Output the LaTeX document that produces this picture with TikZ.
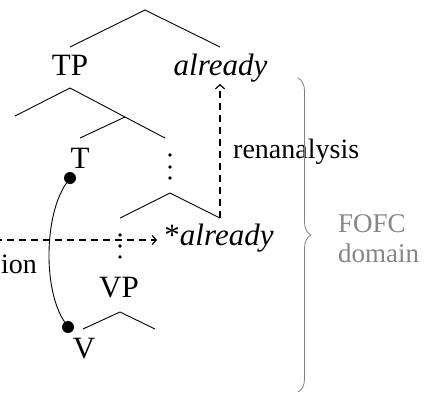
\documentclass[tikz,border=0pt]{standalone}
\usepackage{fontspec}
\setmainfont{Liberation Serif}
\usetikzlibrary{arrows.meta,decorations.pathreplacing}
\begin{document}
\begin{tikzpicture}[x=1pt,y=-1pt,
  branch/.style={line width=0.9pt},
  lbl/.style={font=\fontsize{31}{31}\selectfont, inner sep=0pt},
  note/.style={font=\fontsize{28}{28}\selectfont, inner sep=0pt},
  side/.style={font=\fontsize{27}{27}\selectfont, inner sep=0pt, text=gray!95},
  move/.style={line width=1.5pt, dash pattern=on 7pt off 5pt,
    -{Straight Barb[length=4pt,width=9pt,line width=1.2pt]}},
  dotpt/.style={fill=black, circle, inner sep=0pt, minimum size=3.8pt},
  trace/.style={fill=black, circle, inner sep=0pt, minimum size=12pt}]
\useasboundingbox (0,0) rectangle (425,394);

% top layer: TP and the adverb
\coordinate (r0) at (145,10);
\coordinate (r0l) at (70,47);
\coordinate (r0r) at (220,47);
\draw[branch] (r0l) -- (r0) -- (r0r);
\node[lbl, anchor=base] (TP) at (70,75) {TP};
\node[lbl, anchor=base] (adv) at (220.5,75) {\itshape already};

% TP subtree
\coordinate (r1) at (70,88);
\coordinate (r1l) at (15,116);
\coordinate (r2) at (125,117);
\coordinate (r1r) at (165,138);
\coordinate (r2l) at (80,138);
\draw[branch] (r1l) -- (r1) -- (r2) -- (r1r);
\draw[branch] (r2) -- (r2l);
\node[lbl, anchor=base] (T) at (80,168) {T};
\node[trace] (tdot) at (70,178) {};

% elided material
\node[dotpt] (d1) at (170,155) {};
\node[dotpt] (d2) at (170,167) {};
\node[dotpt] (d3) at (170,178) {};

% lower adverb position
\coordinate (r3) at (170,193);
\coordinate (r3l) at (120,218);
\coordinate (r3r) at (220,218);
\draw[branch] (r3l) -- (r3) -- (r3r);
\node[lbl, anchor=base] (adv2) at (219,245) {*\textit{already}};

\node[dotpt] (e1) at (120,235) {};
\node[dotpt] (e2) at (120,246) {};
\node[dotpt] (e3) at (120,257) {};

% VP
\node[lbl, anchor=base] (VP) at (119,297) {VP};
\coordinate (r4) at (120,312);
\coordinate (r4l) at (83,329);
\coordinate (r4r) at (155,329);
\draw[branch] (r4l) -- (r4) -- (r4r);
\node[trace] (vdot) at (68,327) {};
\node[lbl, anchor=base] (V) at (84,358) {V};

% head chain
\draw[line width=0.9pt] (tdot) .. controls (44,215) and (43,290) .. (vdot);

% movements
\coordinate (src) at (-5,240);
\coordinate (hit) at (157,240);
\draw[move] (src) -- (hit);
\coordinate (top) at (220,84);
\draw[move] (r3r) -- (top);
\node[note, anchor=base west] (ren) at (233,158) {renanalysis};
\node[note, anchor=base east] (ion) at (37,273) {ion};

% domain brace
\draw[gray, line width=0.8pt, decorate, decoration={brace, amplitude=13pt}]
  (298,78) coordinate (b1) -- (298,392) coordinate (b2);
\node[side, anchor=base west] (fofc) at (338,232) {FOFC};
\node[side, anchor=base west] (dom) at (338,262) {domain};
\end{tikzpicture}
\end{document}
